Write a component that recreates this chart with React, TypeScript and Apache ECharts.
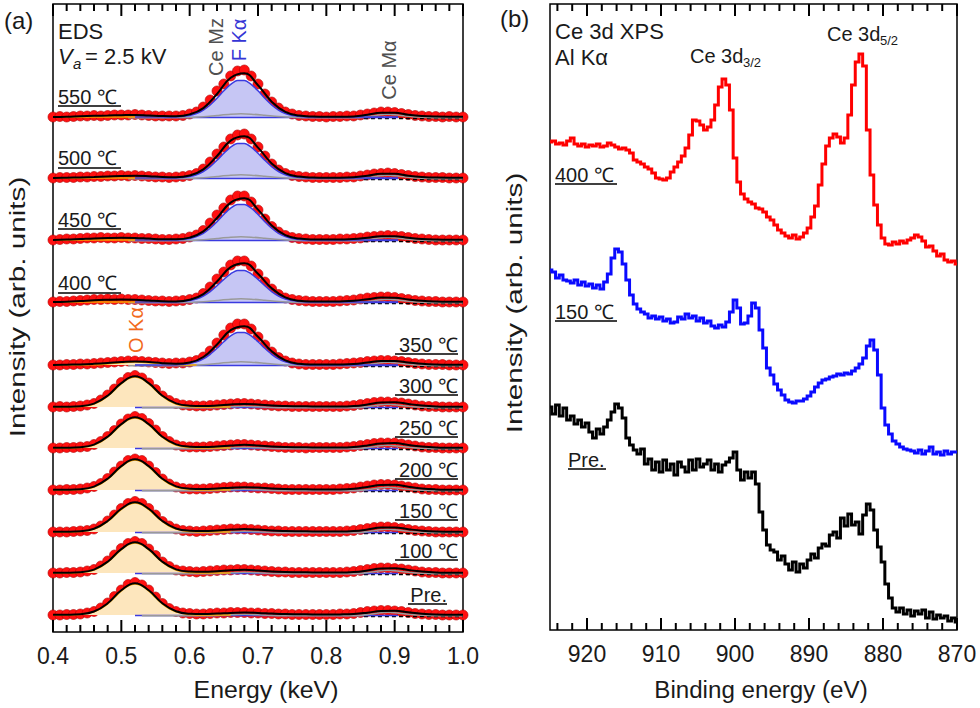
import React, { useEffect, useRef } from "react";
import * as echarts from "echarts";

// ---------------- EDS panel (a) ----------------
const EDS_LABELS = ["550 ℃", "500 ℃", "450 ℃", "400 ℃", "350 ℃", "300 ℃", "250 ℃", "200 ℃", "150 ℃", "100 ℃", "Pre."];
const EDS_OFFSETS = [515, 454, 392, 330, 267, 225, 184, 142, 100, 59, 17];
const EDS_KIND = ["F", "F", "F", "F", "F", "O", "O", "O", "O", "O", "O"];

// measured points, 0.40 .. 1.00 keV, step 0.01 keV
const D550 = [0,0.5,0,0.5,1,1,1.5,1,1.5,2, 2,2,2.5,2,1.5,1,1,1,1,1.5, 3,5,10,17,26,33,41,46,47,41, 33,23,15,9,5,3,1.5,1,0.5,0.5, 0,0.5,0.5,1,1,2,3,4,5,5, 4.5,3.5,2.5,1.5,1,0.5,0.5,0,0.5,0, 0];
const D500 = [0,0.5,0.5,0.5,1,1,1.5,1.5,2,2, 2.5,2,2.5,2,1.5,1,1,0.5,1,1.5, 2.5,4.5,9,16,24,31,39,43,44,39, 31,22,14,8,4.5,2.5,1.5,1,0.5,0.5, 0.5,0.5,0.5,1,1,2,3,4,4.5,5, 4.5,3.5,2.5,1.5,1,0.5,0.5,0.5,0,0, 0];
const D450 = [0,0.5,1,1,1.5,2,2,2.5,2,2, 2.5,2,2,1.5,1.5,1,0.5,0.5,1,1.5, 3,5,9.5,17,25,32,40,44,44,38, 30,21,13.5,8,4.5,2.5,1.5,1,0.5,0.5, 0.5,0.5,1,1,1.5,2,3,3.5,4,4.5, 4,3.5,2.5,1.5,1,0.5,0,0,0,0, 0];
const D400 = [0,0.5,0.5,1,1.5,2,2.5,2.5,3,2.5, 3,2.5,2.5,2,1.5,1,1,0.5,1,1.5, 2.5,4,8.5,15,23,30,37,41,41,36, 28,20,13,7.5,4,2.5,1.5,1,0.5,0.5, 0.5,0.5,1,1.5,2,3,4,4.5,5,5, 4.5,3.5,2.5,1.5,1,0.5,0.5,0,0,0, 0];
const D350 = [0,0,0.5,0.5,1,1,1.5,2,2.5,3, 3.5,4,4,3.5,3,2.5,2,1.5,2,2, 3,4.5,8,14,22,30,37,41,41,36, 28,20,13,7.5,4,2,1,0.5,0.5,0.5, 0.5,0.5,1,1.5,2,2.5,3.5,4,4.5,4.5, 4,3.5,2.5,1.5,1,0.5,0.5,0.5,0,0, 0];
const D300 = [0,0.5,0,0.5,1,2,3.5,7,12,18, 24.5,29.5,31.5,29,24,17.5,11,6.5,3.5,2, 1.5,1,1,1.5,2,2.5,3,3.5,3.5,3, 2.5,2,1.5,1,1,0.5,0.5,0.5,0.5,0.5, 0.5,0.5,0.5,1,1.5,2.5,3.5,4.5,5,5, 4.5,4,3,2,1,0.5,0.5,0,0,0, 0];
const D250 = [0,0,0.5,0.5,1,1.5,3.5,6.5,11.5,17.5, 24,29,31.5,29.5,24.5,18,11.5,6.5,3,1.5, 1,1,1,1.5,2,2.5,3,3.5,3.5,3, 2.5,2,1.5,1,0.5,0.5,0.5,0,0.5,0.5, 0.5,0.5,0.5,1,1.5,2.5,3.5,4.5,5,5, 5,4,3,2,1,0.5,0.5,0,0,0, 0];
const D200 = [0,0,0.5,0.5,1,2,3.5,6.5,11.5,18, 24,29.5,31,29.5,24,17.5,11,6,3,1.5, 1,1,1,1.5,2,2.5,3,3,3,2.5, 2,2,1.5,1,0.5,0.5,0.5,0.5,0.5,0.5, 0.5,0.5,1,1.5,2,3,4,5,5.5,5.5, 5,4,3,2,1,0.5,0.5,0,0,0, 0];
const D150 = [0,0,0,0.5,1,1.5,3,6,11,17, 23.5,28.5,30.5,28.5,23.5,17,10.5,6,3,1.5, 1,0.5,1,1.5,2,2.5,3,3,3,2.5, 2,1.5,1,1,0.5,0.5,0.5,0.5,0.5,0.5, 0.5,0.5,0.5,1,1.5,2.5,3.5,4.5,5,5, 4.5,3.5,2.5,1.5,1,0.5,0,0,0,0, 0];
const D100 = [0,0,0.5,0.5,1,2,3.5,7,12,18, 24.5,29.5,31.5,29.5,24,17.5,11,6.5,3,2, 1.5,1,1.5,2,2.5,3,3,3.5,3.5,3, 2.5,2,1.5,1,1,0.5,0.5,0.5,0.5,0.5, 0.5,0.5,0.5,1,1.5,2.5,3.5,4.5,5,5, 4.5,4,3,2,1,0.5,0.5,0,0,0, 0];
const DPRE = [0,0,0.5,0.5,1,2,3.5,7,12,18.5, 25,30.5,32.5,30,25,18,11.5,6.5,3.5,2, 1.5,1,1,1.5,2,2,2.5,2.5,2.5,2, 2,1.5,1.5,1,1,0.5,0.5,0.5,0.5,0.5, 0.5,0.5,1,1,1.5,2.5,3.5,4,4.5,4.5, 4,3.5,2.5,1.5,1,0.5,0.5,0,0,0, 0];

// fitted envelope, 0.40 .. 1.00 keV, step 0.02 keV
const F550 = [0,0.3,0.8,1.2,1.5,1.8,2,1.5,1,0.8,2.6,8.9,23,39.2,43.7,31.8,15.3,5.1,1.4,0.5,0.3,0.3,0.6,2.2,4.2,4.2,2.2,0.9,0.4,0.3,0.3];
const F500 = [0,0.3,0.6,1,1.5,2,2.2,1.8,1,0.8,2.5,8.6,22,37.4,41.8,30.4,14.6,4.9,1.4,0.5,0.3,0.3,0.7,2.3,4.3,4.3,2.3,1,0.4,0.3,0.3];
const F450 = [0,0.4,1,1.6,2,2.2,2,1.4,0.8,0.7,2.4,8.6,22,37.4,41.8,30.4,14.6,4.9,1.4,0.5,0.4,0.5,0.9,2.3,3.8,3.8,2.3,1,0.4,0.2,0.2];
const F400 = [0,0.3,1,1.8,2.2,2.4,2.2,1.5,0.8,0.6,2.2,7.9,20.5,34.8,38.8,28.2,13.7,4.6,1.3,0.5,0.4,0.6,1.2,2.8,4.4,4.2,2.6,1.2,0.5,0.3,0.3];
const F350 = [0,0.3,0.6,1.2,2,3,3.6,3,1.8,1.3,2.5,8,20.5,34.8,38.8,28.2,13.7,4.6,1.3,0.5,0.4,0.5,1,2.5,4,4,2.6,1.2,0.5,0.3,0.3];
const F300 = [0.2,0.3,0.8,3.4,11.3,23.9,30.8,23.9,11.3,3.6,1.3,1,1.5,2.5,3,2.5,1.5,1,0.8,0.6,0.5,0.5,1,2.5,4.5,4.8,3,1.5,0.6,0.3,0.2];
const F250 = [0.2,0.3,0.8,3.4,11.3,23.9,30.8,23.9,11.3,3.6,1.3,1,1.5,2.5,3.2,2.6,1.5,0.9,0.7,0.6,0.5,0.5,1,2.5,4.6,4.9,3,1.5,0.6,0.3,0.2];
const F200 = [0.2,0.3,0.8,3.4,11.3,23.9,30.8,23.9,11.3,3.6,1.3,1,1.5,2.3,2.8,2.4,1.5,1,0.8,0.6,0.5,0.6,1.3,3,5,5.2,3.2,1.5,0.6,0.3,0.2];
const F150 = [0.2,0.3,0.8,3.3,11,23.2,29.8,23.2,11,3.5,1.3,1,1.5,2.4,2.9,2.4,1.4,0.9,0.7,0.6,0.5,0.5,1,2.5,4.5,4.6,2.8,1.3,0.5,0.3,0.2];
const F100 = [0.2,0.3,0.8,3.4,11.3,23.9,30.8,23.9,11.3,3.6,1.4,1.2,1.8,2.8,3.2,2.6,1.6,1,0.8,0.6,0.5,0.5,1,2.5,4.5,4.8,3,1.5,0.6,0.3,0.2];
const FPRE = [0.2,0.3,0.8,3.5,11.7,24.7,31.8,24.7,11.7,3.7,1.3,1,1.4,2,2.4,2.1,1.5,1,0.8,0.6,0.5,0.6,1,2.3,4,4.3,2.7,1.3,0.5,0.3,0.2];

// F Kα component, 0.58 .. 0.77 keV, step 0.01
const FK550 = [0,0.7,1.6,3.5,6.9,12,18.7,26.2,32.6,36.5,36.5,32.6,26.2,18.7,12,6.9,3.5,1.6,0.7,0];
const FK500 = [0,0.6,1.5,3.3,6.5,11.4,17.7,24.7,30.9,34.5,34.5,30.9,24.7,17.7,11.4,6.5,3.3,1.5,0.6,0];
const FK450 = [0,0.6,1.6,3.4,6.7,11.7,18.2,25.5,31.8,35.5,35.5,31.8,25.5,18.2,11.7,6.7,3.4,1.6,0.6,0];
const FK400 = [0,0.6,1.4,3,6,10.4,16.2,22.6,28.2,31.6,31.6,28.2,22.6,16.2,10.4,6,3,1.4,0.6,0];
const FK350 = [0,0.6,1.5,3.1,6.1,10.7,16.7,23.3,29.1,32.5,32.5,29.1,23.3,16.7,10.7,6.1,3.1,1.5,0.6,0];

// O Kα component, 0.43 .. 0.61 keV, step 0.01
const OK350 = [0,0,0.1,0.3,0.6,1.1,1.7,2.3,2.8,3,2.8,2.3,1.7,1.1,0.6,0.3,0.1,0,0];
const OK300 = [0,0.5,1.3,3,6.1,10.8,16.9,23.3,28.1,30,28.1,23.3,16.9,10.8,6.1,3,1.3,0.5,0];
const OK250 = [0,0.5,1.3,3,6.1,10.8,16.9,23.3,28.1,30,28.1,23.3,16.9,10.8,6.1,3,1.3,0.5,0];
const OK200 = [0,0.5,1.3,3,6.1,10.8,16.9,23.3,28.1,30,28.1,23.3,16.9,10.8,6.1,3,1.3,0.5,0];
const OK150 = [0,0.5,1.3,2.9,5.9,10.5,16.4,22.5,27.2,29,27.2,22.5,16.4,10.5,5.9,2.9,1.3,0.5,0];
const OK100 = [0,0.5,1.3,3,6.1,10.8,16.9,23.3,28.1,30,28.1,23.3,16.9,10.8,6.1,3,1.3,0.5,0];
const OKPRE = [0,0.5,1.4,3.1,6.3,11.2,17.5,24,29.1,31,29.1,24,17.5,11.2,6.3,3.1,1.4,0.5,0];

// Ce components (gray), [keV, intensity]
const GRAY_F = [[0.51,0],[0.6,0.3],[0.62,1],[0.64,2.3],[0.66,3.5],[0.675,4],[0.69,3.6],[0.71,2.5],[0.73,1.3],[0.75,0.5],[0.78,0],[0.84,0],[0.86,1.2],[0.88,3],[0.89,3.5],[0.9,3],[0.92,1.5],[0.94,0.5],[0.97,0],[1.0,0]];
const GRAY_O = [[0.53,0],[0.62,0],[0.66,1],[0.68,1.5],[0.7,1],[0.74,0],[0.84,0],[0.86,1.2],[0.88,3],[0.89,3.5],[0.9,3],[0.92,1.5],[0.94,0.5],[0.97,0],[1.0,0]];

const DOTS = [D550, D500, D450, D400, D350, D300, D250, D200, D150, D100, DPRE];
const FITS = [F550, F500, F450, F400, F350, F300, F250, F200, F150, F100, FPRE];
const FKA = [FK550, FK500, FK450, FK400, FK350];
const OKA = [null, null, null, null, OK350, OK300, OK250, OK200, OK150, OK100, OKPRE];

// axis ticks
const A_TICKS = [0.4,0.42,0.44,0.46,0.48,0.5,0.52,0.54,0.56,0.58,0.6,0.62,0.64,0.66,0.68,0.7,0.72,0.74,0.76,0.78,0.8,0.82,0.84,0.86,0.88,0.9,0.92,0.94,0.96,0.98,1.0];
const A_MAJOR = [0.4, 0.5, 0.6, 0.7, 0.8, 0.9, 1.0];
const B_TICKS = [870,872,874,876,878,880,882,884,886,888,890,892,894,896,898,900,902,904,906,908,910,912,914,916,918,920,922,924];
const B_MAJOR = [870, 880, 890, 900, 910, 920];

// ---------------- XPS panel (b) ----------------
const XPS_LABELS = ["400 ℃", "150 ℃", "Pre."];
// 925 .. 870 eV, step 0.5 eV
const XPS_400 = [488,489,486,487,485,489,492,486,484,486, 483,485,484,486,483,484,487,485,483,481, 482,480,477,470,468,466,463,461,457,452, 451,450,452,458,463,468,474,482,495,510, 509,505,500,503,510,525,543,551,545,520, 472,448,436,431,428,426,422,421,418,413, 410,405,400,397,394,392,395,391,393,397, 402,413,424,445,466,484,492,496,493,487, 492,515,545,568,576,564,500,455,425,405, 392,386,385,388,386,389,387,390,392,395, 393,389,383,384,379,374,376,370,368,369, 366];
const XPS_150 = [360,358,352,355,350,349,347,350,345,348, 344,346,342,345,341,348,356,372,381,378, 366,350,335,326,321,318,316,312,314,311, 313,309,311,307,308,313,311,316,312,314, 309,312,307,309,304,302,305,303,308,318, 330,322,306,307,314,327,322,300,282,262, 255,246,240,235,230,228,227,229,229,231, 234,238,243,247,250,251,253,254,256,255, 257,256,259,262,266,272,284,290,280,255, 222,205,196,189,186,183,181,180,179,177, 180,176,179,183,176,178,175,179,176,178, 178];
const XPS_PRE = [223,216,225,214,222,210,214,206,210,203, 207,198,192,201,196,203,210,218,226,222, 212,192,185,180,176,181,166,171,160,168, 158,170,160,166,155,168,163,158,170,160, 171,163,166,170,160,166,158,165,168,172, 178,160,150,158,152,158,146,118,100,85, 80,78,70,74,66,60,68,58,66,62, 70,76,72,82,86,84,95,98,92,112, 104,116,105,108,96,115,126,120,100,83, 68,46,32,22,18,22,16,20,14,19, 16,20,12,18,11,15,12,14,9,12, 8];
const XPS_COLORS = ["#ff0000", "#0a0aff", "#000000"];

const FONT = "Liberation Sans, Arial, Helvetica, sans-serif";
const TXT = "#1a1a1a";

function grid(start: number, n: number, step: number) {
  return Array.from({ length: n }, (_, i) => Math.round((start + i * step) * 1000) / 1000);
}

// one short line series per tick mark (bottom and top), in data space (y units equal pixels)
function tickSeries(ticks: number[], major: number[], yMax: number, xi: number) {
  const out: any[] = [];
  ticks.forEach((v) => {
    const len = major.some((m) => Math.abs(m - v) < 1e-6) ? 12 : 7;
    const common = {
      type: "line", xAxisIndex: xi, yAxisIndex: xi, showSymbol: false, symbol: "none", silent: true, animation: false,
      clip: false, z: 10, lineStyle: { color: "#000", width: 2 },
    };
    out.push({ ...common, data: [[v, 0], [v, len]] });
    out.push({ ...common, data: [[v, yMax - len], [v, yMax]] });
  });
  return out;
}

function buildOption() {
  const series: any[] = [];
  const eDots = grid(0.4, 61, 0.01);
  const eFit = grid(0.4, 31, 0.02);
  const eF = grid(0.58, 20, 0.01);
  const eO = grid(0.43, 19, 0.01);
  const base = { type: "line", xAxisIndex: 0, yAxisIndex: 0, showSymbol: false, symbol: "none", silent: true, animation: false };

  EDS_OFFSETS.forEach((off, k) => {
    series.push({ ...base, data: [[0.855, off - 1.5], [1.0, off - 1.5]], lineStyle: { color: "#000", width: 1.3, type: [4, 3] } });
    series.push({ ...base, data: [[0.52, off - 0.5], [0.905, off - 0.5]], lineStyle: { color: "#3b3be0", width: 1.5 } });
    const g = EDS_KIND[k] === "F" ? GRAY_F : GRAY_O;
    series.push({ ...base, smooth: 0.3, data: g.map((p) => [p[0], off - 0.8 + p[1]]), lineStyle: { color: "#9a9a9a", width: 1.6 } });
  });
  EDS_OFFSETS.forEach((off, k) => {
    const ok = OKA[k];
    if (ok) {
      const d = [[0.4, off], ...ok.map((v, i) => [eO[i], off + v]), [EDS_KIND[k] === "O" ? 0.66 : 0.56, off]];
      series.push({ ...base, smooth: 0.3, data: d, lineStyle: { color: "#f5a300", width: 1.5 }, areaStyle: { origin: off, color: "#fde6bd", opacity: 1 } });
    } else {
      series.push({ ...base, data: [[0.4, off], [0.56, off]], lineStyle: { color: "#f5a300", width: 1.5 } });
    }
    if (k < FKA.length) {
      const fk = FKA[k];
      const d = [[0.52, off], ...fk.map((v, i) => [eF[i], off + v]), [0.905, off]];
      series.push({ ...base, smooth: 0.3, data: d, lineStyle: { color: "#3b3be0", width: 1.5 }, areaStyle: { origin: off, color: "#c6c6f4", opacity: 1 } });
    }
  });
  DOTS.forEach((arr, k) => {
    series.push({
      type: "scatter", xAxisIndex: 0, yAxisIndex: 0, silent: true, animation: false,
      symbolSize: 10, data: arr.map((v, i) => [eDots[i], EDS_OFFSETS[k] + v]),
      itemStyle: { color: "#ff1010", borderColor: "#b00000", borderWidth: 0.6, opacity: 1 },
    });
  });
  FITS.forEach((arr, k) => {
    series.push({ ...base, smooth: 0.45, data: arr.map((v, i) => [eFit[i], EDS_OFFSETS[k] + v]), lineStyle: { color: "#000", width: 2 } });
  });

  const eX = grid(925, 111, -0.5);
  [XPS_400, XPS_150, XPS_PRE].forEach((arr, k) => {
    series.push({
      type: "line", xAxisIndex: 1, yAxisIndex: 1, showSymbol: false, symbol: "none", silent: true, animation: false,
      step: "middle", data: arr.map((v, i) => [eX[i], v]), lineStyle: { color: XPS_COLORS[k], width: 3, join: "miter" },
    });
  });

  series.push(...tickSeries(A_TICKS, A_MAJOR, 628, 0));
  series.push(...tickSeries(B_TICKS, B_MAJOR, 626, 1));

  const xAxis = [
    {
      type: "value", gridIndex: 0, position: "bottom", min: 0.4, max: 1.0, interval: 0.1,
      axisLine: { show: false }, axisTick: { show: false }, splitLine: { show: false },
      axisLabel: { fontSize: 23, color: TXT, fontFamily: FONT, margin: 12, formatter: (v: number) => v.toFixed(1) },
    },
    {
      type: "value", gridIndex: 1, position: "bottom", min: 870, max: 925, interval: 10, inverse: true,
      axisLine: { show: false }, axisTick: { show: false }, splitLine: { show: false },
      axisLabel: { fontSize: 23, color: TXT, fontFamily: FONT, margin: 12, showMinLabel: true, showMaxLabel: false, formatter: (v: number) => (v % 10 === 0 ? String(v) : "") },
    },
  ];
  const yAxis = [
    { type: "value", gridIndex: 0, min: 0, max: 628, show: false },
    { type: "value", gridIndex: 1, min: 0, max: 626, show: false },
  ];

  const t = (x: number, y: number, text: string, o: any = {}) => ({
    type: "text", x, y, rotation: o.rotation || 0, scaleX: o.scaleX || 1, scaleY: o.scaleY || 1, silent: true, z: 100,
    style: {
      text, fill: o.fill || TXT, fontSize: o.fontSize || 20, fontFamily: FONT, fontStyle: o.fontStyle || "normal",
      align: o.align || "left", verticalAlign: o.verticalAlign || "middle",
    },
  });
  const ln = (x1: number, y1: number, x2: number, y2: number, w = 1.3) => ({ type: "line", silent: true, z: 100, shape: { x1, y1, x2, y2 }, style: { stroke: "#000", lineWidth: w } });

  const graphic: any[] = [
    t(4, 20, "(a)", { fontSize: 24 }),
    t(500, 18, "(b)", { fontSize: 24 }),
    t(58, 31, "EDS", { fontSize: 22 }),
    t(58, 56, "V", { fontSize: 22, fontStyle: "italic" }),
    t(73, 63, "a", { fontSize: 15, fontStyle: "italic" }),
    t(85, 56, "= 2.5 kV", { fontSize: 22 }),
    t(216, 47, "Ce Mz", { rotation: Math.PI / 2, align: "center", fill: "#505050" }),
    t(239, 40, "F Kα", { rotation: Math.PI / 2, align: "center", fill: "#3535d5" }),
    t(389, 70, "Ce Mα", { rotation: Math.PI / 2, align: "center", fill: "#505050" }),
    t(136, 330, "O Kα", { rotation: Math.PI / 2, align: "center", fill: "#f26a1b" }),
    t(266, 690, "Energy (keV)", { fontSize: 23, align: "center", scaleX: 1.08 }),
    t(761, 690, "Binding energy (eV)", { fontSize: 23, align: "center", scaleX: 1.05 }),
    t(17, 307, "Intensity (arb. units)", { fontSize: 22, align: "center", rotation: Math.PI / 2, scaleX: 1.35 }),
    t(514, 303, "Intensity (arb. units)", { fontSize: 22, align: "center", rotation: Math.PI / 2, scaleX: 1.35 }),
    t(555, 31, "Ce 3d XPS", { fontSize: 22 }),
    t(555, 57, "Al Kα", { fontSize: 22 }),
    t(690, 56, "Ce 3d", { fontSize: 20 }),
    t(743, 62, "3/2", { fontSize: 13 }),
    t(827, 34, "Ce 3d", { fontSize: 20 }),
    t(880, 40, "5/2", { fontSize: 13 }),
  ];
  const leftPos = [[58, 97, 106], [58, 158, 168], [58, 220, 229], [58, 283, 293]];
  const rightPos = [[458, 345, 354], [458, 386, 395], [458, 428, 437], [458, 470, 479], [458, 511, 520], [458, 551, 560], [447, 595, 604]];
  EDS_LABELS.forEach((lab, k) => {
    const w = lab === "Pre." ? 39 : 63;
    if (k < 4) {
      const [x, y, u] = leftPos[k];
      graphic.push(t(x, y, lab, { fontSize: 20 }));
      graphic.push(ln(x, u, x + w, u));
    } else {
      const [x, y, u] = rightPos[k - 4];
      graphic.push(t(x, y, lab, { fontSize: 20, align: "right" }));
      graphic.push(ln(x - w, u, x, u));
    }
  });
  const xpsPos = [[555, 175, 184, 62], [555, 312, 321, 62], [568, 460, 469, 38]];
  XPS_LABELS.forEach((lab, k) => {
    const [x, y, u, w] = xpsPos[k];
    graphic.push(t(x, y, lab, { fontSize: 20 }));
    graphic.push(ln(x, u, x + w, u));
  });

  return {
    animation: false,
    backgroundColor: "#ffffff",
    grid: [
      { left: 53, top: 4, width: 410, height: 628, show: true, borderColor: "#000", borderWidth: 1.5, backgroundColor: "transparent" },
      { left: 550, top: 4, width: 407, height: 626, show: true, borderColor: "#000", borderWidth: 1.5, backgroundColor: "transparent" },
    ],
    xAxis,
    yAxis,
    series,
    graphic,
  };
}

export default function App() {
  const ref = useRef<HTMLDivElement>(null);
  useEffect(() => {
    if (!ref.current) return;
    const chart = echarts.init(ref.current, undefined, { renderer: "svg" });
    chart.setOption(buildOption() as any);
    return () => chart.dispose();
  }, []);
  return <div ref={ref} style={{ position: "fixed", left: 0, top: 0, width: 980, height: 708, background: "#fff" }} />;
}
